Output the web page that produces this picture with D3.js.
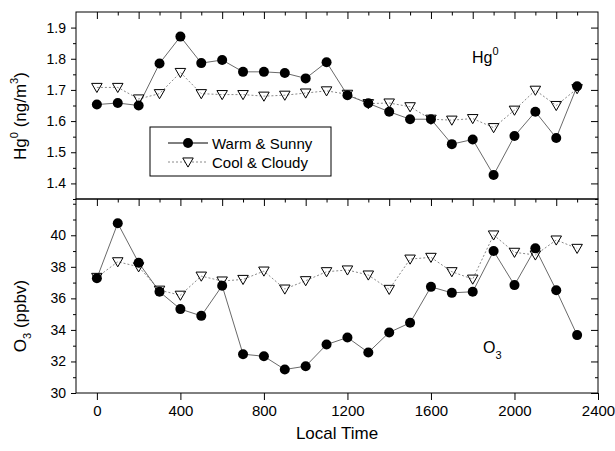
<!DOCTYPE html>
<html><head><meta charset="utf-8">
<script src="https://cdn.jsdelivr.net/npm/d3@7"></script>
<style>body{margin:0;background:#fff}svg{display:block;font-family:Arial,"Liberation Sans",sans-serif}</style>
</head><body><svg id="c" width="615" height="451"></svg>
<script>
const hours = [0,100,200,300,400,500,600,700,800,900,1000,1100,1200,1300,1400,1500,1600,1700,1800,1900,2000,2100,2200,2300];
const hgWarm = [1.653,1.658,1.650,1.785,1.871,1.786,1.796,1.758,1.758,1.754,1.737,1.789,1.683,1.657,1.630,1.606,1.606,1.526,1.541,1.427,1.552,1.630,1.546,1.712];
const hgCool = [1.708,1.708,1.671,1.688,1.756,1.688,1.685,1.685,1.680,1.683,1.690,1.697,1.686,1.656,1.658,1.646,1.606,1.603,1.608,1.579,1.635,1.699,1.650,1.704];
const o3Warm = [37.27,40.76,38.26,36.42,35.32,34.89,36.80,32.46,32.33,31.49,31.70,33.07,33.52,32.57,33.84,34.45,36.73,36.35,36.42,39.00,36.84,39.17,36.52,33.67];
const o3Cool = [37.33,38.32,38.00,36.52,36.20,37.41,37.10,37.20,37.73,36.59,37.12,37.69,37.80,37.48,36.57,38.49,38.60,37.69,37.22,40.02,38.92,38.75,39.70,39.17];
const seriesNames = ["Warm & Sunny","Cool & Cloudy"];
const xTickLabels = [0,400,800,1200,1600,2000,2400];
const hgTickLabels = [1.4,1.5,1.6,1.7,1.8,1.9];
const o3TickLabels = [30,32,34,36,38,40];

const svg = d3.select("#c");
const L=76, R=598, T1=12, B1=199, T2=199, B2=393;
const x = d3.scaleLinear().domain([-100,2400]).range([L,R]);
const yHg = d3.scaleLinear().domain([1.35,1.95]).range([B1,T1]);
const yO3 = d3.scaleLinear().domain([30,42.3]).range([B2,T2]);

const xMinor = d3.range(-100,2401,100).filter(v=>v>-100&&v<2400);
const xMinorOdd = xMinor.filter(v=>v%200!==0);
const xMinorEven = xMinor.filter(v=>v%200===0);

function clean(g){g.select(".domain").remove();g.selectAll("line").attr("stroke","#000");g.selectAll("text").attr("fill","#000");}

function panel(y, top, bottom, majors, minors, fmt, showBottomTicks){
  // left outward ticks with labels
  svg.append("g").attr("transform",`translate(${L},0)`)
    .call(d3.axisLeft(y).tickValues(majors).tickSize(5).tickPadding(5).tickFormat(fmt))
    .call(clean).selectAll("text").style("font-size","14px").style("font-family","Arial,'Liberation Sans',sans-serif");
  svg.append("g").attr("transform",`translate(${L},0)`)
    .call(d3.axisLeft(y).tickValues(minors).tickSize(3).tickFormat(""))
    .call(clean);
  // right inward ticks
  svg.append("g").attr("transform",`translate(${R},0)`)
    .call(d3.axisLeft(y).tickValues(majors).tickSize(7).tickFormat(""))
    .call(clean);
  svg.append("g").attr("transform",`translate(${R},0)`)
    .call(d3.axisLeft(y).tickValues(minors).tickSize(3).tickFormat(""))
    .call(clean);
  // top inward ticks
  svg.append("g").attr("transform",`translate(0,${top})`)
    .call(d3.axisBottom(x).tickValues(xMinorEven).tickSize(7).tickFormat(""))
    .call(clean);
  svg.append("g").attr("transform",`translate(0,${top})`)
    .call(d3.axisBottom(x).tickValues(xMinorOdd).tickSize(3.5).tickFormat(""))
    .call(clean);
  // frame
  svg.append("rect").attr("x",L).attr("y",top).attr("width",R-L).attr("height",bottom-top)
    .attr("fill","none").attr("stroke","#000").attr("stroke-width",1);
}

panel(yHg, T1, B1, hgTickLabels, [1.35,1.45,1.55,1.65,1.75,1.85,1.95].filter(v=>v<1.95), d3.format(".1f"));
panel(yO3, T2, B2, o3TickLabels, [31,33,35,37,39,41,42], d3.format("d"));

// bottom x axis
svg.append("g").attr("transform",`translate(0,${B2})`)
  .call(d3.axisBottom(x).tickValues(xTickLabels).tickSize(7).tickPadding(5).tickFormat(d3.format("d")))
  .call(clean).selectAll("text").style("font-size","15px").style("font-family","Arial,'Liberation Sans',sans-serif");

const tri = d3.symbol().type(d3.symbolTriangle).size(48);

function drawSeries(y, warm, cool){
  const g = svg.append("g");
  const lineW = d3.line().x((d,i)=>x(hours[i])).y(d=>y(d));
  g.append("path").datum(cool).attr("d",lineW).attr("fill","none")
    .attr("stroke","#8a8a8a").attr("stroke-width",1).attr("stroke-dasharray","2,2");
  g.append("path").datum(warm).attr("d",lineW).attr("fill","none")
    .attr("stroke","#6a6a6a").attr("stroke-width",1);
  g.selectAll("circle").data(warm).join("circle")
    .attr("cx",(d,i)=>x(hours[i])).attr("cy",d=>y(d)).attr("r",5).attr("fill","#000");
  g.selectAll("path.tri").data(cool).join("path").attr("class","tri")
    .attr("d",tri).attr("transform",(d,i)=>`translate(${x(hours[i])},${y(d)-1}) rotate(180)`)
    .attr("fill","none").attr("stroke","#000").attr("stroke-width",1);
}
drawSeries(yHg, hgWarm, hgCool);
drawSeries(yO3, o3Warm, o3Cool);

// legend
const lg = svg.append("g");
lg.append("rect").attr("x",150).attr("y",127).attr("width",181).attr("height",49)
  .attr("fill","#fff").attr("stroke","#000").attr("stroke-width",1);
lg.append("line").attr("x1",168).attr("x2",208).attr("y1",143).attr("y2",143).attr("stroke","#000").attr("stroke-width",1);
lg.append("circle").attr("cx",188).attr("cy",143).attr("r",5).attr("fill","#000");
lg.append("line").attr("x1",168).attr("x2",208).attr("y1",162).attr("y2",162).attr("stroke","#8a8a8a").attr("stroke-width",1).attr("stroke-dasharray","2,2");
lg.append("path").attr("d",tri).attr("transform","translate(188,161) rotate(180)")
  .attr("fill","#fff").attr("stroke","#000").attr("stroke-width",1);
lg.append("text").attr("x",212).attr("y",148.5).style("font-size","15px").text(seriesNames[0]);
lg.append("text").attr("x",212).attr("y",167.5).style("font-size","15px").text(seriesNames[1]);

// panel labels
const t1 = svg.append("text").attr("x",472).attr("y",63).style("font-size","16px");
t1.append("tspan").text("Hg");
t1.append("tspan").attr("dy",-8).style("font-size","11px").text("0");
const t2 = svg.append("text").attr("x",483).attr("y",353).style("font-size","16px");
t2.append("tspan").text("O");
t2.append("tspan").attr("dy",6).style("font-size","11px").text("3");

// axis titles
const yl1 = svg.append("text").attr("transform","translate(26,116) rotate(-90)")
  .attr("text-anchor","middle").style("font-size","17px");
yl1.append("tspan").text("Hg");
yl1.append("tspan").attr("dy",-8).style("font-size","11px").text("0");
yl1.append("tspan").attr("dy",8).text(" (ng/m");
yl1.append("tspan").attr("dy",-8).style("font-size","11px").text("3");
yl1.append("tspan").attr("dy",8).text(")");

const yl2 = svg.append("text").attr("transform","translate(26,316) rotate(-90)")
  .attr("text-anchor","middle").style("font-size","17px");
yl2.append("tspan").text("O");
yl2.append("tspan").attr("dy",5).style("font-size","11px").text("3");
yl2.append("tspan").attr("dy",-5).text(" (ppbv)");

svg.append("text").attr("x",337).attr("y",439).attr("text-anchor","middle")
  .style("font-size","17px").text("Local Time");
</script></body></html>
